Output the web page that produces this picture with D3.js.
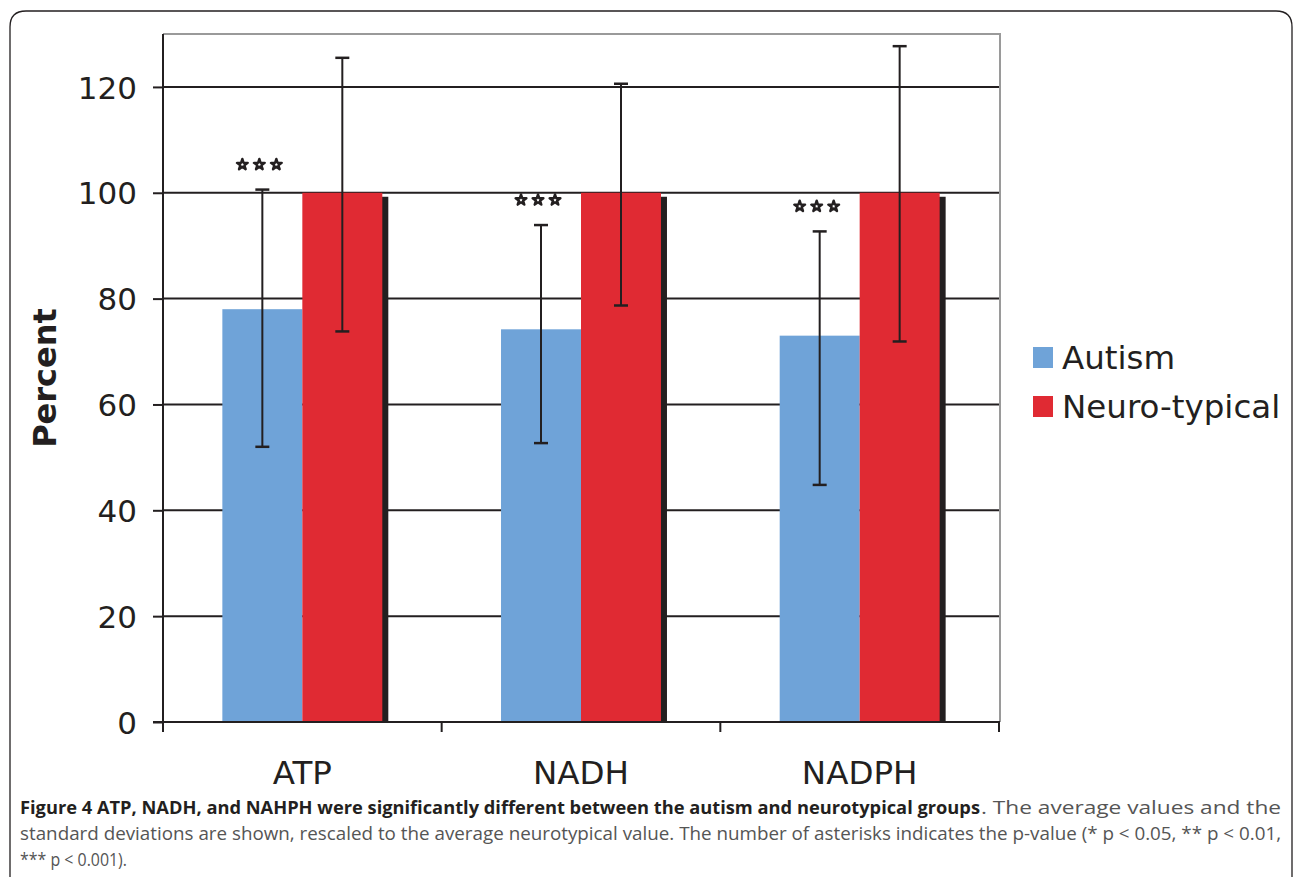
<!DOCTYPE html>
<html><head><meta charset="utf-8">
<script src="https://cdn.jsdelivr.net/npm/d3@7"></script>
<style>body{margin:0;background:#fff}svg{display:block}</style>
</head><body>
<svg id="c" width="1293" height="877"></svg>
<script>
const categories = ["ATP", "NADH", "NADPH"];
const seriesNames = ["Autism", "Neuro-typical"];
const autismMean = [78, 74.2, 73];
const autismLow = [52, 52.7, 44.8];
const autismHigh = [100.6, 93.9, 92.7];
const neuroMean = [100, 100, 100];
const neuroLow = [73.8, 78.7, 71.9];
const neuroHigh = [125.5, 120.6, 127.7];
const stars = [3, 3, 3];
const yTicks = [0, 20, 40, 60, 80, 100, 120];
const colors = ["#6FA3D8", "#E02A33"];
const ink = "#231F20";

const svg = d3.select("#c");
// outer frame
svg.append("path")
  .attr("d", "M10,877 L10,27 Q10,11 26,11 L1276,11 Q1292,11 1292,27 L1292,877")
  .attr("fill", "none").attr("stroke", ink).attr("stroke-width", 1.3);

const L = 163, R = 999, T = 34, B = 722;
const y = d3.scaleLinear().domain([0, 130]).range([B, T]);
const x = d3.scaleBand().domain(categories).range([L, R]).paddingInner(0.426).paddingOuter(0.213);
const xs = d3.scaleBand().domain(seriesNames).range([0, x.bandwidth()]);

// gridlines
svg.append("g").selectAll("line").data(yTicks.filter(d => d > 0)).join("line")
  .attr("x1", L).attr("x2", R).attr("y1", d => y(d)).attr("y2", d => y(d))
  .attr("stroke", ink).attr("stroke-width", 2);
// top & right gray border
svg.append("path").attr("d", `M${L},${T}L${R+1},${T}L${R+1},${B}`)
  .attr("fill", "none").attr("stroke", "#9a9a9a").attr("stroke-width", 2);

const data = categories.map((c, i) => [
  {cat: c, s: seriesNames[0], v: autismMean[i], lo: autismLow[i], hi: autismHigh[i]},
  {cat: c, s: seriesNames[1], v: neuroMean[i], lo: neuroLow[i], hi: neuroHigh[i]}
]);
const flat = data.flat();

// shadows (red bars)
svg.append("g").selectAll("rect").data(flat.filter(d => d.s === seriesNames[1])).join("rect")
  .attr("x", d => x(d.cat) + xs(d.s) + 6).attr("y", d => y(d.v) + 4)
  .attr("width", xs.bandwidth()).attr("height", d => B - y(d.v) - 4).attr("fill", ink);
// bars
svg.append("g").selectAll("rect").data(flat).join("rect")
  .attr("x", d => x(d.cat) + xs(d.s)).attr("y", d => y(d.v))
  .attr("width", xs.bandwidth()).attr("height", d => B - y(d.v))
  .attr("fill", d => colors[seriesNames.indexOf(d.s)]);

// error bars
const eb = svg.append("g").attr("stroke", ink).attr("stroke-width", 2);
flat.forEach(d => {
  const cx = x(d.cat) + xs(d.s) + xs.bandwidth() / 2;
  eb.append("line").attr("x1", cx).attr("x2", cx).attr("y1", y(d.hi)).attr("y2", y(d.lo));
  [d.hi, d.lo].forEach(v => eb.append("line").attr("x1", cx - 7).attr("x2", cx + 7).attr("y1", y(v)).attr("y2", y(v)).attr("stroke-width", 2.5));
});

// asterisks (stars)
const starSym = d3.symbol(d3.symbolStar, 36);
categories.forEach((c, i) => {
  const cx = x(c) + xs(seriesNames[0]) + xs.bandwidth() / 2 - 3;
  const cy = y(autismHigh[i]) - 25;
  for (let k = 0; k < stars[i]; k++) {
    svg.append("path").attr("d", starSym())
      .attr("transform", `translate(${cx + (k - (stars[i]-1)/2) * 17},${cy})`)
      .attr("fill", "#fff").attr("stroke", ink).attr("stroke-width", 2.4).attr("stroke-linejoin", "round");
  }
});

// axes
const yAxis = svg.append("g").attr("transform", `translate(${L},0)`)
  .call(d3.axisLeft(y).tickValues(yTicks).tickSize(10).tickPadding(16).tickSizeOuter(0));
yAxis.select(".domain").attr("d", `M0,${T}V${B}`).attr("stroke", ink).attr("stroke-width", 2);
yAxis.selectAll(".tick line").attr("stroke", ink).attr("stroke-width", 2);
yAxis.selectAll(".tick text").attr("font-family", "DejaVu Sans").attr("font-size", 31).attr("fill", ink).attr("dy", "0.36em");

const xAxis = svg.append("g").attr("transform", `translate(0,${B})`);
xAxis.append("line").attr("x1", L - 10).attr("x2", R + 1).attr("stroke", ink).attr("stroke-width", 2);
xAxis.selectAll(".xt").data(d3.range(categories.length + 1)).join("line")
  .attr("x1", i => L + i * x.step()).attr("x2", i => L + i * x.step())
  .attr("y1", 0).attr("y2", 10).attr("stroke", ink).attr("stroke-width", 2);
xAxis.selectAll(".xl").data(categories).join("text")
  .attr("x", d => x(d) + x.bandwidth() / 2).attr("y", 62)
  .attr("text-anchor", "middle").attr("font-family", "DejaVu Sans").attr("font-size", 32.5).attr("fill", ink)
  .text(d => d);

// y title
svg.append("text").attr("transform", "translate(56,378) rotate(-90)")
  .attr("text-anchor", "middle").attr("font-family", "DejaVu Sans").attr("font-weight", "bold")
  .attr("font-size", 32).attr("fill", ink).text("Percent");

// legend
const lg = svg.append("g");
seriesNames.forEach((s, i) => {
  lg.append("rect").attr("x", 1033).attr("y", 347 + i * 49).attr("width", 20).attr("height", 21).attr("fill", colors[i]);
  lg.append("text").attr("x", 1062).attr("y", 369 + i * 49).attr("font-family", "DejaVu Sans")
    .attr("font-size", 32.5).attr("fill", ink).text(s);
});

// caption
const cap = svg.append("g").attr("font-family", "Open Sans").attr("font-size", 18).attr("fill", ink);
cap.append("text").attr("x", 20).attr("y", 814).attr("font-weight", "bold")
  .attr("textLength", 960).attr("lengthAdjust", "spacingAndGlyphs")
  .text("Figure 4 ATP, NADH, and NAHPH were significantly different between the autism and neurotypical groups");
cap.append("text").attr("x", 981).attr("y", 814).attr("fill", "#555")
  .attr("textLength", 300).attr("lengthAdjust", "spacingAndGlyphs")
  .text(". The average values and the");
cap.append("text").attr("x", 20).attr("y", 840).attr("fill", "#555")
  .attr("textLength", 1261).attr("lengthAdjust", "spacingAndGlyphs")
  .text("standard deviations are shown, rescaled to the average neurotypical value. The number of asterisks indicates the p-value (* p < 0.05, ** p < 0.01,");
cap.append("text").attr("x", 20).attr("y", 866).attr("fill", "#555")
  .attr("textLength", 107).attr("lengthAdjust", "spacingAndGlyphs")
  .text("*** p < 0.001).");
</script>
</body></html>
